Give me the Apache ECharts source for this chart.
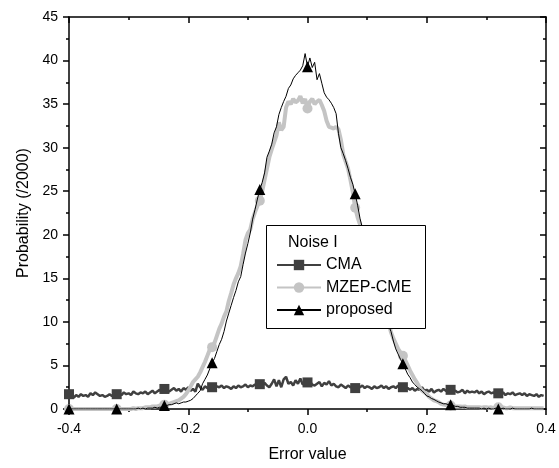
<!DOCTYPE html>
<html>
<head>
<meta charset="utf-8">
<script src="https://cdn.jsdelivr.net/npm/echarts@6/dist/echarts.min.js"></script>
<style>
html,body{margin:0;padding:0;background:#fff;}
#chart{width:559px;height:468px;}
</style>
</head>
<body>
<div id="chart"></div>
<script>
// sampling grid of the error value axis
const xStart = -0.4;
const xStep = 0.004;
const markerEvery = 20;

const seriesNames = ['CMA', 'MZEP-CME', 'proposed'];
const legendTitle = 'Noise I';
const xTickLabels = ['-0.4', '-0.2', '0.0', '0.2', '0.4'];

const cma = [
 1.7,1.5,1.3,1.6,1.4,1.7,1.5,1.6,1.4,1.8,
 1.6,1.9,1.7,1.5,1.6,1.4,1.5,1.7,1.5,1.6,
 1.7,1.8,1.6,1.9,1.7,1.8,1.6,2.0,1.8,1.7,
 1.9,1.8,2.0,1.7,1.9,2.1,1.8,2.0,2.2,1.9,
 2.3,2.1,2.0,2.2,2.4,2.1,2.3,2.0,2.4,2.2,
 2.5,2.1,2.3,2.0,2.9,2.5,2.2,2.6,2.4,2.3,
 2.5,2.4,2.6,2.5,2.7,2.4,2.6,2.5,2.3,2.6,
 2.4,2.7,2.5,2.6,2.8,2.5,2.7,2.6,2.8,2.7,
 2.85,2.6,3.0,2.7,2.5,2.9,3.4,2.6,3.3,2.5,
 3.4,3.7,2.9,3.1,2.7,3.3,2.9,3.5,2.8,3.1,
 3.05,3.2,2.8,2.7,2.9,3.1,2.6,3.0,2.8,3.2,
 2.7,2.9,2.6,2.5,2.8,2.6,2.4,2.7,2.5,2.6,
 2.4,2.6,2.5,2.7,2.4,2.6,2.5,2.3,2.6,2.4,
 2.5,2.7,2.4,2.6,2.3,2.5,2.6,2.4,2.7,2.5,
 2.5,2.3,2.4,2.2,2.4,2.1,2.3,2.2,2.5,2.1,
 2.2,2.0,2.3,1.9,2.1,2.2,2.0,2.3,2.1,2.0,
 2.2,2.0,2.1,1.9,2.0,2.2,1.8,2.1,1.9,2.0,
 1.9,2.1,1.8,2.0,1.7,1.9,2.0,1.8,1.9,1.7,
 1.8,1.7,1.9,1.6,1.8,1.7,1.9,1.6,1.7,1.8,
 1.6,1.8,1.5,1.7,1.6,1.5,1.7,1.4,1.6,1.5
];

const mzep = [
 0,0,0,0,0,0,0,0,0,0,
 0,0,0,0,0,0,0,0,0,0,
 0,0,0,0,0,0,0,0.1,0,0.1,
 0.1,0.1,0.2,0.2,0.2,0.3,0.3,0.3,0.4,0.4,
 0.5,0.5,0.6,0.7,0.8,0.9,1.0,1.2,1.4,1.7,
 2.1,2.6,3.1,3.4,3.7,4.2,4.8,5.4,6.1,6.8,
 7.1,7.6,8.4,9.2,9.8,10.6,11.2,12.4,13.3,14.3,
 15.0,15.6,16.4,17.8,19.4,20.2,20.6,21.8,22.6,23.3,
 23.9,25.0,26.3,27.6,28.9,29.8,30.6,31.4,32.9,32.0,
 32.4,34.6,35.3,35.0,35.6,35.2,35.4,35.9,35.1,35.6,
 34.5,35.3,35.6,35.0,35.3,35.5,34.9,34.2,33.1,32.4,
 32.3,32.2,32.4,32.1,30.9,29.2,28.4,27.6,26.3,24.9,
 23.1,22.0,21.2,20.1,19.3,18.4,17.1,16.3,15.2,14.2,
 13.3,12.4,11.6,10.8,9.9,8.8,8.1,7.5,6.9,6.5,
 6.1,5.6,5.0,4.4,3.9,3.4,3.0,2.5,2.1,1.9,
 1.7,1.4,1.2,1.0,0.9,0.8,0.6,0.5,0.45,0.4,
 0.4,0.35,0.3,0.3,0.3,0.25,0.3,0.2,0.2,0.2,
 0.2,0.2,0.2,0.15,0.2,0.2,0.15,0.2,0.1,0.2,
 0.2,0.1,0.2,0.1,0.1,0.2,0.1,0.1,0.1,0.1,
 0.1,0.1,0.1,0.1,0.1,0.1,0.1,0.1,0.1,0.1
];

const proposed = [
 0,0,0,0,0,0,0,0,0,0,
 0,0,0,0,0,0,0,0,0,0,
 0,0,0,0,0,0,0,0,0,0.1,
 0,0.1,0,0.1,0.1,0.1,0.2,0.1,0.2,0.2,
 0.4,0.4,0.5,0.5,0.6,0.7,0.6,0.7,0.8,0.8,
 0.9,1.0,1.2,1.5,1.8,2.1,2.9,3.4,3.9,4.6,
 5.3,5.8,6.6,7.4,8.0,8.9,10.1,11.0,11.9,12.8,
 13.6,14.6,15.2,16.6,17.9,19.0,20.2,21.8,22.9,24.1,
 25.2,26.0,27.1,28.9,29.6,30.4,31.7,32.4,33.8,34.6,
 35.3,35.9,36.8,37.2,37.9,38.3,38.6,38.9,39.4,40.8,
 39.3,40.3,39.2,39.8,37.8,38.5,37.4,36.3,35.8,35.5,
 35.1,34.6,33.9,31.6,30.0,29.3,28.5,27.6,26.6,25.8,
 24.7,23.4,21.9,20.8,19.6,18.5,17.2,16.3,15.0,14.1,
 13.0,12.2,11.1,10.3,9.6,8.9,7.8,6.9,6.3,5.7,
 5.2,4.6,4.0,3.6,3.1,2.8,2.5,2.3,2.1,1.8,
 1.5,1.4,1.2,1.1,0.95,0.8,0.7,0.6,0.6,0.5,
 0.5,0.4,0.3,0.3,0.2,0.2,0.2,0.1,0.1,0.1,
 0.1,0.1,0.1,0,0.1,0,0.1,0,0,0.1,
 0,0,0.1,0,0,0,0.1,0,0,0,
 0,0,0,0,0.1,0,0,0,0,0
];

const FONT = '"Liberation Sans", Arial, Helvetica, sans-serif';

function build(vals, sym) {
  return vals.map((v, i) => ({
    value: [+(xStart + i * xStep).toFixed(3), v],
    symbol: (i % markerEvery === 0) ? sym : 'none'
  }));
}

const chart = echarts.init(document.getElementById('chart'), null, {renderer: 'canvas'});

const axisLineStyle = {color: '#000', width: 1.5};

const option = {
  backgroundColor: '#fff',
  animation: false,
  grid: {left: 69, right: 13, top: 17, bottom: 58, containLabel: false},
  xAxis: [{
    type: 'value', min: -0.4, max: 0.4, interval: 0.2, position: 'bottom',
    axisLine: {onZero: false, lineStyle: axisLineStyle},
    axisTick: {inside: false, length: 6, lineStyle: axisLineStyle},
    minorTick: {show: true, splitNumber: 2, length: 3, lineStyle: axisLineStyle},
    splitLine: {show: false},
    axisLabel: {fontSize: 14, color: '#000', fontFamily: FONT, margin: 13,
      formatter: function (v) { const k = Math.round((v + 0.4) / 0.2); return xTickLabels[k]; }},
    name: 'Error value', nameLocation: 'middle', nameGap: 38,
    nameTextStyle: {fontSize: 16, color: '#000', fontFamily: FONT}
  }, {
    type: 'value', min: -0.4, max: 0.4, interval: 0.2, position: 'top',
    axisLine: {onZero: false, lineStyle: axisLineStyle},
    axisTick: {inside: true, length: 6, lineStyle: axisLineStyle},
    minorTick: {show: true, splitNumber: 2, length: 3, lineStyle: axisLineStyle},
    splitLine: {show: false},
    axisLabel: {show: false}
  }],
  yAxis: [{
    type: 'value', min: 0, max: 45, interval: 5, position: 'left',
    axisLine: {show: true, onZero: false, lineStyle: axisLineStyle},
    axisTick: {show: true, inside: false, length: 6, lineStyle: axisLineStyle},
    minorTick: {show: true, splitNumber: 2, length: 3, lineStyle: axisLineStyle},
    splitLine: {show: false},
    axisLabel: {fontSize: 14, color: '#000', fontFamily: FONT, margin: 11},
    name: 'Probability (/2000)', nameLocation: 'middle', nameGap: 36,
    nameTextStyle: {fontSize: 16, color: '#000', fontFamily: FONT}
  }, {
    type: 'value', min: 0, max: 45, interval: 5, position: 'right',
    axisLine: {show: true, onZero: false, lineStyle: axisLineStyle},
    axisTick: {show: true, inside: true, length: 6, lineStyle: axisLineStyle},
    minorTick: {show: true, splitNumber: 2, length: 3, lineStyle: axisLineStyle},
    splitLine: {show: false},
    axisLabel: {show: false}
  }],
  legend: {
    orient: 'vertical', left: 276, top: 257,
    itemWidth: 44, itemHeight: 13, itemGap: 6.5,
    padding: 0,
    textStyle: {fontSize: 16, color: '#000', fontFamily: FONT, lineHeight: 16},
    data: seriesNames,
    z: 10
  },
  graphic: [{
    type: 'rect', z: 8, left: 266, top: 225,
    shape: {width: 159, height: 103},
    style: {fill: '#fff', stroke: '#000', lineWidth: 1}
  }, {
    type: 'text', z: 9, left: 288, top: 235,
    style: {text: legendTitle, fill: '#000', font: '16px ' + FONT}
  }],
  series: [{
    name: seriesNames[0], type: 'line', xAxisIndex: 0, yAxisIndex: 0,
    data: build(cma, 'rect'), symbol: 'rect', symbolSize: 10, showAllSymbol: true,
    lineStyle: {color: '#404040', width: 2.5}, itemStyle: {color: '#404040'},
    z: 2
  }, {
    name: seriesNames[1], type: 'line', xAxisIndex: 0, yAxisIndex: 0,
    data: build(mzep, 'circle'), symbol: 'circle', symbolSize: 10, showAllSymbol: true,
    lineStyle: {color: '#c4c4c4', width: 4}, itemStyle: {color: '#c4c4c4'},
    z: 3
  }, {
    name: seriesNames[2], type: 'line', xAxisIndex: 0, yAxisIndex: 0,
    data: build(proposed, 'triangle'), symbol: 'triangle', symbolSize: 11, showAllSymbol: true,
    lineStyle: {color: '#000', width: 1}, itemStyle: {color: '#000'},
    z: 4
  }]
};
chart.setOption(option);
</script>
</body>
</html>
